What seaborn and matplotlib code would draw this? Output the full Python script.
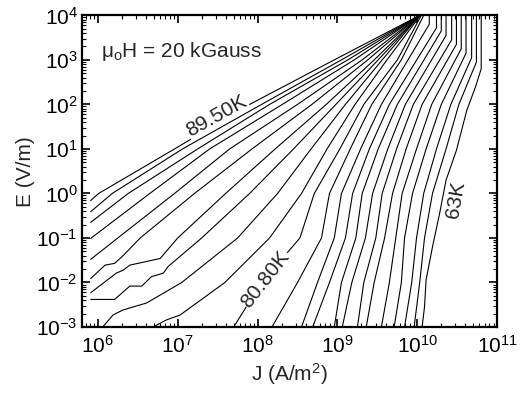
import numpy as np
import pandas as pd
import matplotlib
matplotlib.use("Agg")
import matplotlib.pyplot as plt
import seaborn as sns
from matplotlib.ticker import LogLocator, NullFormatter

# ---------------- data (log10 J in A/m^2, log10 E in V/m) ----------------
c01_logJ = [5.91, 6.01, 6.96, 7.90, 8.96, 10.03]
c01_logE = [-0.16, 0.0, 1.0, 2.0, 3.0, 4.0]
c02_logJ = [5.91, 6.18, 7.06, 8.05, 9.05, 10.03]
c02_logE = [-0.41, 0.0, 1.0, 2.0, 3.0, 4.0]
c03_logJ = [5.91, 6.38, 7.25, 8.15, 9.13, 10.03]
c03_logE = [-0.65, 0.0, 1.0, 2.0, 3.0, 4.0]
c04_logJ = [5.91, 6.65, 7.40, 8.31, 9.21, 10.03]
c04_logE = [-1.01, 0.0, 1.0, 2.0, 3.0, 4.0]
c05_logJ = [5.91, 6.25, 6.96, 7.65, 8.50, 9.31, 10.03]
c05_logE = [-1.48, -1.0, 0.0, 1.0, 2.0, 3.0, 4.0]
c06_logJ = [5.91, 6.09, 6.21, 6.32, 6.53, 7.21, 7.93, 8.68, 9.38, 10.03]
c06_logE = [-1.91, -1.61, -1.57, -1.39, -1.0, 0.0, 1.0, 2.0, 3.0, 4.0]
c07_logJ = [5.91, 6.23, 6.32, 6.40, 6.78, 7.00, 7.60, 8.22, 8.86, 9.46, 10.03]
c07_logE = [-2.23, -1.79, -1.72, -1.61, -1.46, -1.0, 0.0, 1.0, 2.0, 3.0, 4.0]
c08_logJ = [5.91, 6.21, 6.40, 6.55, 6.67, 6.82, 6.88, 7.30, 7.90, 8.45, 8.98, 9.51, 10.03]
c08_logE = [-2.38, -2.38, -2.08, -2.08, -1.87, -1.79, -1.64, -1.0, 0.0, 1.0, 2.0, 3.0, 4.0]
c09_logJ = [6.06, 6.19, 6.31, 6.61, 7.05, 7.75, 8.25, 8.67, 9.10, 9.56, 10.03]
c09_logE = [-3.0, -2.73, -2.62, -2.46, -2.0, -1.0, 0.0, 1.0, 2.0, 3.0, 4.0]
c10_logJ = [6.69, 6.86, 7.03, 7.59, 8.15, 8.55, 8.87, 9.22, 9.62, 10.04]
c10_logE = [-3.0, -2.84, -2.73, -2.0, -1.0, 0.0, 1.0, 2.0, 3.0, 4.0]
c11_logJ = [7.70, 8.05, 8.53, 8.71, 9.03, 9.33, 9.75, 10.05]
c11_logE = [-3.0, -2.0, -1.0, 0.0, 1.0, 2.0, 3.0, 4.0]
c12_logJ = [8.18, 8.50, 8.80, 8.90, 9.16, 9.43, 9.80, 10.08]
c12_logE = [-3.0, -2.0, -1.0, 0.0, 1.0, 2.0, 3.0, 4.0]
c13_logJ = [8.55, 8.75, 8.96, 9.05, 9.29, 9.55, 10.15, 10.15]
c13_logE = [-3.0, -2.0, -1.0, 0.0, 1.0, 2.0, 3.80, 4.0]
c14_logJ = [8.69, 8.90, 9.10, 9.19, 9.40, 9.65, 10.24, 10.24]
c14_logE = [-3.0, -2.0, -1.0, 0.0, 1.0, 2.0, 3.72, 4.0]
c15_logJ = [8.96, 9.05, 9.23, 9.31, 9.51, 9.75, 10.30, 10.30]
c15_logE = [-3.0, -2.0, -1.0, 0.0, 1.0, 2.0, 3.65, 4.0]
c16_logJ = [9.06, 9.18, 9.35, 9.44, 9.63, 9.85, 10.36, 10.36]
c16_logE = [-3.0, -2.0, -1.0, 0.0, 1.0, 2.0, 3.55, 4.0]
c17_logJ = [9.25, 9.33, 9.48, 9.56, 9.74, 9.95, 10.43, 10.43]
c17_logE = [-3.0, -2.0, -1.0, 0.0, 1.0, 2.0, 3.45, 4.0]
c18_logJ = [9.36, 9.46, 9.59, 9.69, 9.86, 10.06, 10.49, 10.49]
c18_logE = [-3.0, -2.0, -1.0, 0.0, 1.0, 2.0, 3.35, 4.0]
c19_logJ = [9.55, 9.65, 9.73, 9.81, 9.99, 10.18, 10.55, 10.55]
c19_logE = [-3.0, -2.0, -1.0, 0.0, 1.0, 2.0, 3.25, 4.0]
c20_logJ = [9.71, 9.80, 9.84, 9.94, 10.11, 10.30, 10.61, 10.61]
c20_logE = [-3.0, -2.0, -1.0, 0.0, 1.0, 2.0, 3.15, 4.0]
c21_logJ = [9.84, 9.93, 9.99, 10.08, 10.24, 10.42, 10.68, 10.68]
c21_logE = [-3.0, -2.0, -1.0, 0.0, 1.0, 2.0, 3.05, 4.0]
c22_logJ = [9.96, 10.03, 10.09, 10.19, 10.36, 10.52, 10.74, 10.74]
c22_logE = [-3.0, -2.0, -1.0, 0.0, 1.0, 2.0, 2.95, 4.0]
c23_logJ = [10.06, 10.09, 10.11, 10.19, 10.28, 10.36, 10.49, 10.62, 10.73, 10.80, 10.80]
c23_logE = [-3.0, -2.55, -1.94, -1.2, -0.44, 0.3, 0.97, 1.87, 2.4, 2.8, 4.0]

curves = [
    (c01_logJ, c01_logE), (c02_logJ, c02_logE), (c03_logJ, c03_logE),
    (c04_logJ, c04_logE), (c05_logJ, c05_logE), (c06_logJ, c06_logE),
    (c07_logJ, c07_logE), (c08_logJ, c08_logE), (c09_logJ, c09_logE),
    (c10_logJ, c10_logE), (c11_logJ, c11_logE), (c12_logJ, c12_logE),
    (c13_logJ, c13_logE), (c14_logJ, c14_logE), (c15_logJ, c15_logE),
    (c16_logJ, c16_logE), (c17_logJ, c17_logE), (c18_logJ, c18_logE),
    (c19_logJ, c19_logE), (c20_logJ, c20_logE), (c21_logJ, c21_logE),
    (c22_logJ, c22_logE), (c23_logJ, c23_logE),
]

labels_text = ["89.50K", "80.80K", "63K"]
labels_logJ = [7.49, 8.10, 10.48]
labels_logE = [1.74, -1.92, -0.15]
labels_rot = [29, 52, 80]

rows = []
for i, (lj, le) in enumerate(curves):
    for k, (a, b) in enumerate(zip(lj, le)):
        rows.append({"curve": i, "order": k, "J": 10 ** a, "E": 10 ** b})
df = pd.DataFrame(rows)

# ---------------- style ----------------
sns.set_style("ticks")
plt.rcParams["font.family"] = ["Liberation Sans", "DejaVu Sans"]
plt.rcParams["mathtext.fontset"] = "custom"
plt.rcParams["mathtext.rm"] = "Liberation Sans"
plt.rcParams["mathtext.it"] = "Liberation Sans:italic"
plt.rcParams["mathtext.default"] = "regular"

fig = plt.figure(figsize=(5.25, 3.94), dpi=100)
ax = fig.add_axes([0.156, 0.170, 0.791, 0.791])
ax.set_xscale("log")
ax.set_yscale("log")

sns.lineplot(data=df, x="J", y="E", units="curve", estimator=None, sort=False,
             color="black", linewidth=0.8, legend=False, ax=ax)

ax.set_xlim(10 ** 5.8, 1e11)
ax.set_ylim(1e-3, 1e4)

ax.xaxis.set_major_locator(LogLocator(base=10, numticks=20))
ax.yaxis.set_major_locator(LogLocator(base=10, numticks=20))
ax.xaxis.set_minor_locator(LogLocator(base=10, subs=np.arange(2, 10), numticks=20))
ax.yaxis.set_minor_locator(LogLocator(base=10, subs=np.arange(2, 10), numticks=20))
ax.xaxis.set_minor_formatter(NullFormatter())
ax.yaxis.set_minor_formatter(NullFormatter())

ax.tick_params(which="both", direction="in", top=True, right=True, colors="black",
               labelsize=15)
ax.tick_params(axis="x", which="major", pad=6)
ax.tick_params(axis="y", which="major", pad=3)
ax.tick_params(which="major", length=6, width=1.2)
ax.tick_params(which="minor", length=3, width=0.8)
for s in ax.spines.values():
    s.set_linewidth(1.6)
    s.set_color("black")

ax.set_xlabel("J (A/m$^2$)", fontsize=15, labelpad=3)
ax.set_ylabel("E (V/m)", fontsize=15, labelpad=1)

ax.text(0.045, 0.885, "μ$_\\mathrm{o}$H = 20 kGauss", transform=ax.transAxes,
        fontsize=15, ha="left", va="center")

for t, lj, le, r in zip(labels_text, labels_logJ, labels_logE, labels_rot):
    ax.text(10 ** lj, 10 ** le, t, rotation=r, rotation_mode="anchor",
            ha="center", va="center", fontsize=15,
            bbox=dict(facecolor="white", edgecolor="none", pad=0.5))

fig.savefig("out.png", dpi=100)
